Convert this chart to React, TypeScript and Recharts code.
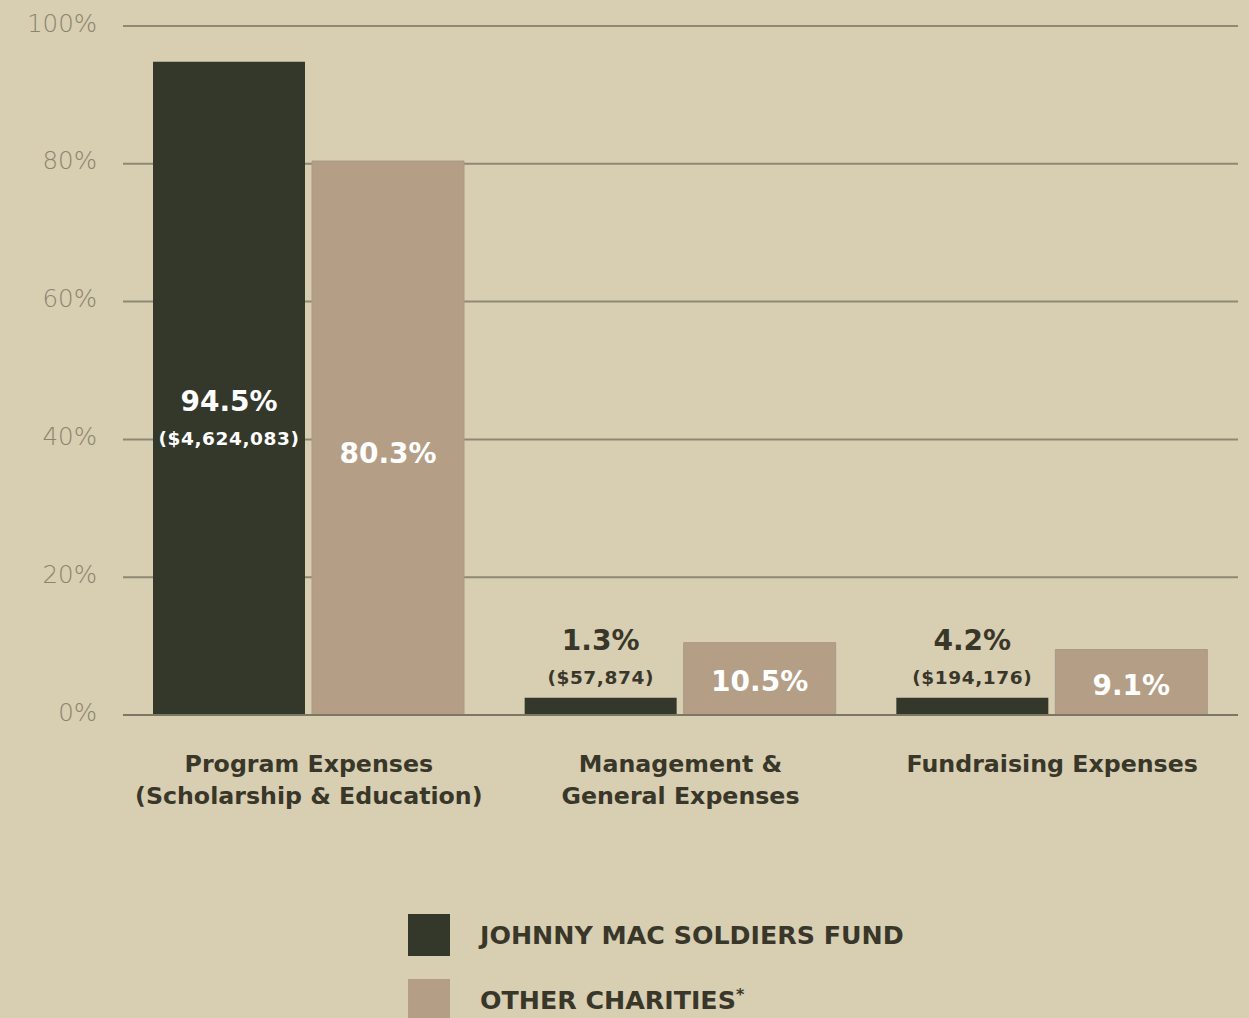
import React from "react";
import { BarChart, Bar, XAxis, YAxis, CartesianGrid, LabelList, Legend } from "recharts";

const categoryLines: string[][] = [
  ["Program Expenses", "(Scholarship & Education)"],
  ["Management &", "General Expenses"],
  ["Fundraising Expenses"],
];
const jmsfValues = [94.8, 2.5, 2.5];
const otherValues = [80.4, 10.5, 9.5];
const jmsfLabels = ["94.5%", "1.3%", "4.2%"];
const jmsfAmounts = ["($4,624,083)", "($57,874)", "($194,176)"];
const otherLabels = ["80.3%", "10.5%", "9.1%"];
const yTicks = [0, 20, 40, 60, 80, 100];
const legendNames = ["JOHNNY MAC SOLDIERS FUND", "OTHER CHARITIES"];

const DARK = "#34382a";
const TAN = "#b59e86";
const BG = "#d8ceb1";
const TEXT = "#38372a";
const FONT = "'DejaVu Sans', sans-serif";

const data = categoryLines.map((lines, i) => ({
  name: lines.join(" "),
  jmsf: jmsfValues[i],
  other: otherValues[i],
}));

const XTick = (props: any) => {
  const { x, y, index } = props;
  const lines = categoryLines[index] || [];
  return (
    <text
      x={x}
      y={y + 57}
      textAnchor="middle"
      fill={TEXT}
      fontFamily={FONT}
      fontWeight={700}
      fontSize={23.7}
    >
      {lines.map((l, i) => (
        <tspan key={i} x={x} dy={i === 0 ? 0 : 32}>
          {l}
        </tspan>
      ))}
    </text>
  );
};

const YTick = (props: any) => {
  const { y, payload } = props;
  return (
    <text
      x={97}
      y={y - 3}
      textAnchor="end"
      dominantBaseline="central"
      fill="#8a846e"
      fontFamily={FONT}
      fontWeight={200}
      fontSize={24.5}
    >
      {payload.value}%
    </text>
  );
};

const darkLabel = (props: any) => {
  const { x, y, width, height, index } = props;
  const cx = x + width / 2;
  const big = height > 100;
  const vy = big ? y + height * 0.52 : y - 57;
  const color = big ? "#fff" : TEXT;
  return (
    <g fontFamily={FONT} fontWeight={700} textAnchor="middle">
      <text x={cx} y={vy} fill={color} fontSize={28} dominantBaseline="central">
        {jmsfLabels[index]}
      </text>
      <text
        x={cx}
        y={vy + 37}
        fill={color}
        fontSize={18.5}
        letterSpacing={0.6}
        dominantBaseline="central"
      >
        {jmsfAmounts[index]}
      </text>
    </g>
  );
};

const tanLabel = (props: any) => {
  const { x, y, width, height, index } = props;
  const cx = x + width / 2;
  const vy = height > 100 ? y + height * 0.528 : y + height / 2 + 3;
  return (
    <text
      x={cx}
      y={vy}
      fill="#fff"
      fontFamily={FONT}
      fontWeight={700}
      fontSize={28}
      textAnchor="middle"
      dominantBaseline="central"
    >
      {otherLabels[index]}
    </text>
  );
};

const LegendContent = () => {
  const colors = [DARK, TAN];
  return (
    <div style={{ position: "relative", width: 560, height: 110 }}>
      {legendNames.map((n, i) => (
        <div
          key={n}
          style={{
            position: "absolute",
            left: 0,
            top: i * 65,
            height: 42,
            display: "flex",
            alignItems: "center",
          }}
        >
          <div style={{ width: 42, height: 42, background: colors[i] }} />
          <span
            style={{
              marginLeft: 30,
              fontFamily: FONT,
              fontWeight: 700,
              fontSize: 25.3,
              color: TEXT,
              whiteSpace: "nowrap",
            }}
          >
            {n}
            {i === 1 ? <sup style={{ fontSize: 16 }}>*</sup> : null}
          </span>
        </div>
      ))}
    </div>
  );
};

export default function App() {
  return (
    <div
      style={{
        position: "absolute",
        left: 0,
        top: 0,
        width: 1249,
        height: 1018,
        background: BG,
        overflow: "hidden",
      }}
    >
      <BarChart
        width={1249}
        height={1018}
        data={data}
        margin={{ top: 26, right: 11, left: 0, bottom: 0 }}
        barCategoryGap={30}
        barGap={7}
      >
        <CartesianGrid vertical={false} stroke="#8e8974" strokeWidth={2} />
        <XAxis
          dataKey="name"
          height={303}
          tickLine={false}
          tickSize={0}
          tickMargin={0}
          axisLine={{ stroke: "#7b7764", strokeWidth: 2 }}
          tick={<XTick />}
          interval={0}
        />
        <YAxis
          width={123}
          domain={[0, 100]}
          ticks={yTicks}
          axisLine={false}
          tickLine={false}
          tickSize={0}
          tick={<YTick />}
        />
        <Legend
          layout="horizontal"
          verticalAlign="middle"
          align="center"
          content={<LegendContent />}
          wrapperStyle={{ position: "absolute", left: 408, top: 914, width: 560 }}
        />
        <Bar dataKey="jmsf" fill={DARK} isAnimationActive={false}>
          <LabelList dataKey="jmsf" content={darkLabel} />
        </Bar>
        <Bar dataKey="other" fill={TAN} stroke="#a8998a" strokeWidth={1} isAnimationActive={false}>
          <LabelList dataKey="other" content={tanLabel} />
        </Bar>
      </BarChart>
    </div>
  );
}
